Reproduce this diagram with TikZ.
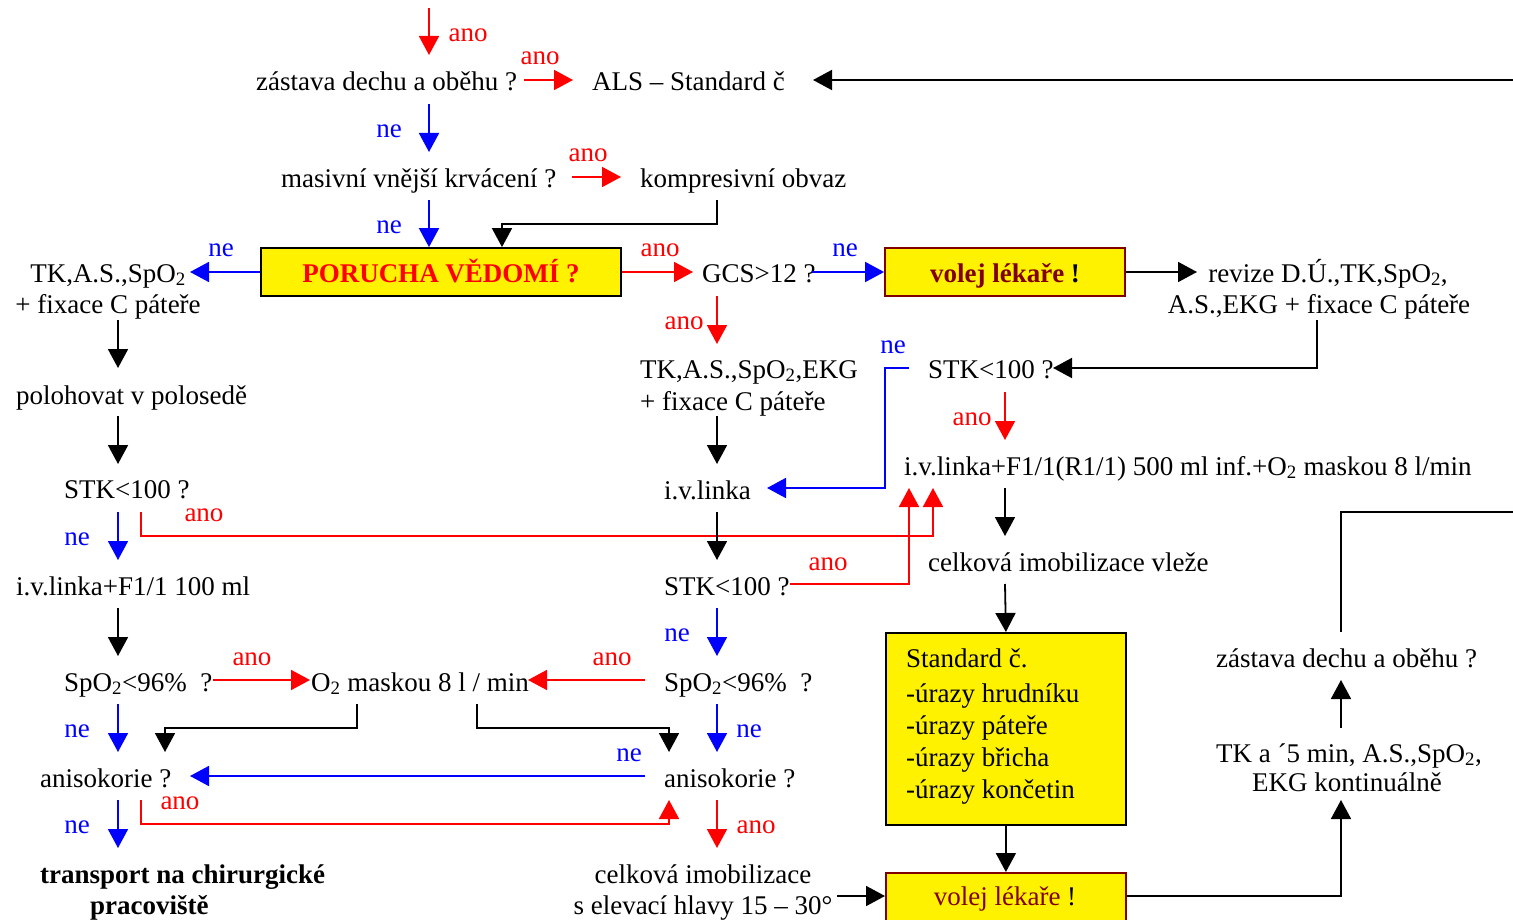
\documentclass[tikz,border=0pt]{standalone}
\usepackage{fontspec}
\setmainfont{Liberation Serif}
\usetikzlibrary{arrows.meta}
\definecolor{maroon}{RGB}{128,0,0}
\newcommand\subtwo{\textsubscript{2}}
\begin{document}
\begin{tikzpicture}[x=1pt,y=-1pt,
  every node/.style={font=\fontsize{27}{31}\selectfont},
  txt/.style={inner sep=0pt, anchor=base west},
  lab/.style={inner sep=0pt, anchor=base},
  conn/.style={line width=1.8pt, -{Triangle[length=19pt,width=20pt]}},
  bare/.style={line width=1.8pt},
  ybox/.style={draw, line width=1.8pt, fill=yellow, inner sep=0pt},
  redl/.style={lab, text=red},
  bluel/.style={lab, text=blue},
]
\useasboundingbox (0,0) rectangle (1513,920);
\clip (0,0) rectangle (1513,920);

% ---------- boxes ----------
\node[ybox, minimum width=360pt, minimum height=48pt] (por) at (441,272) {};
\node[lab, text=red, font=\fontsize{27}{31}\selectfont\bfseries] (porT) at (441,283) {PORUCHA VĚDOMÍ ?};
\node[ybox, draw=maroon, minimum width=240pt, minimum height=48pt] (vol1) at (1005,272) {};
\node[lab, text=maroon, font=\fontsize{27}{31}\selectfont\bfseries] (vol1T) at (1005,283) {volej lékaře \textcolor{black}{!}};
\node[ybox, minimum width=240pt, minimum height=192pt, anchor=north west] (std) at (885,632) {};
\node[ybox, draw=maroon, minimum width=240pt, minimum height=72pt, anchor=north west] (vol2) at (885,872) {};
\node[lab, text=maroon] (vol2T) at (1005,905) {volej lékaře \textcolor{black}{!}};

% ---------- texts ----------
\node[txt] (zast) at (256,91) {zástava dechu a oběhu ?};
\node[txt] (als) at (592,91) {ALS – Standard č};
\node[txt] (masiv) at (281,188) {masivní vnější krvácení ?};
\node[txt] (kompr) at (640,188) {kompresivní obvaz};
\node[lab] (tkL1) at (108,282) {TK,A.S.,SpO\subtwo};
\node[lab] (tkL2) at (108,313) {+ fixace C páteře};
\node[txt] (polo) at (16,404) {polohovat v polosedě};
\node[txt] (stkL) at (64,498) {STK<100 ?};
\node[txt] (ivL) at (16,595) {i.v.linka+F1/1 100 ml};
\node[txt] (spoL) at (64,691) {SpO\subtwo<96\%\ \ ?};
\node[txt] (o2) at (311,691) {O\subtwo\ maskou 8 l / min};
\node[txt] (spoR) at (664,691) {SpO\subtwo<96\%\ \ ?};
\node[txt] (anisoL) at (40,787) {anisokorie ?};
\node[txt] (anisoR) at (664,787) {anisokorie ?};
\node[txt, font=\fontsize{27}{31}\selectfont\bfseries] (trans1) at (40,883) {transport na chirurgické};
\node[txt, font=\fontsize{27}{31}\selectfont\bfseries] (trans2) at (90,914) {pracoviště};
\node[lab] (celk1) at (703,883) {celková imobilizace};
\node[lab] (celk2) at (703,914) {s elevací hlavy 15 – 30°};
\node[txt] (gcs) at (702,282) {GCS>12 ?};
\node[lab] (rev1) at (1328,282) {revize D.Ú.,TK,SpO\subtwo,};
\node[lab] (rev2) at (1319,313) {A.S.,EKG + fixace C páteře};
\node[txt] (tkM1) at (640,378) {TK,A.S.,SpO\subtwo,EKG};
\node[txt] (tkM2) at (640,410) {+ fixace C páteře};
\node[txt] (ivM) at (664,499) {i.v.linka};
\node[txt] (stkR) at (928,378) {STK<100 ?};
\node[txt] (ivR) at (904,475) {i.v.linka+F1/1(R1/1) 500 ml inf.+O\subtwo\ maskou 8 l/min};
\node[txt] (stkM) at (664,595) {STK<100 ?};
\node[txt] (celkR) at (928,571) {celková imobilizace vleže};
\node[txt] (std1) at (906,667) {Standard č.};
\node[txt] (std2) at (906,702) {-úrazy hrudníku};
\node[txt] (std3) at (906,734) {-úrazy páteře};
\node[txt] (std4) at (906,766) {-úrazy břicha};
\node[txt] (std5) at (906,798) {-úrazy končetin};
\node[txt] (zastR) at (1216,667) {zástava dechu a oběhu ?};
\node[txt] (tk5a) at (1216,762) {TK a ´5 min, A.S.,SpO\subtwo,};
\node[txt] (tk5b) at (1252,791) {EKG kontinuálně};

% ---------- labels ----------
\node[redl] (l1) at (468,42) {ano};
\node[redl] (l2) at (540,65) {ano};
\node[bluel] (l3) at (389,138) {ne};
\node[redl] (l4) at (588,162) {ano};
\node[bluel] (l5) at (389,234) {ne};
\node[bluel] (l6) at (221,257) {ne};
\node[redl] (l7) at (660,257) {ano};
\node[bluel] (l8) at (845,257) {ne};
\node[redl] (l9) at (684,329) {ano};
\node[bluel] (l10) at (893,353) {ne};
\node[redl] (l11) at (972,425) {ano};
\node[bluel] (l12) at (77,545) {ne};
\node[redl] (l13) at (204,521) {ano};
\node[redl] (l14) at (828,570) {ano};
\node[bluel] (l15) at (677,641) {ne};
\node[redl] (l16) at (252,665) {ano};
\node[redl] (l17) at (612,665) {ano};
\node[bluel] (l18) at (77,737) {ne};
\node[bluel] (l19) at (749,737) {ne};
\node[bluel] (l20) at (629,761) {ne};
\node[bluel] (l21) at (77,833) {ne};
\node[redl] (l22) at (180,809) {ano};
\node[redl] (l23) at (756,833) {ano};

% ---------- coordinates ----------
\coordinate (in0) at (429,8);
\coordinate (z1) at (429,55);
\coordinate (z2) at (524,80);
\coordinate (z3) at (573,80);
\coordinate (edgeA) at (1513,80);
\coordinate (alsR) at (813,80);
\coordinate (z4) at (429,104);
\coordinate (m1) at (429,152);
\coordinate (m2) at (572,177);
\coordinate (m3) at (621,177);
\coordinate (m4) at (429,200);
\coordinate (k1) at (717,200);
\coordinate (k2) at (717,224);
\coordinate (k3) at (502,224);
\coordinate (tkLa) at (190,272);
\coordinate (gcsL) at (693,272);
\coordinate (gcsR) at (812,272);
\coordinate (revL) at (1197,272);
\coordinate (gcsB) at (717,296);
\coordinate (tkMt) at (717,344);
\coordinate (revB) at (1317,320);
\coordinate (revC) at (1317,368);
\coordinate (stkRr) at (1053,368);
\coordinate (stkRl) at (909,368);
\coordinate (bcor1) at (885,368);
\coordinate (bcor2) at (885,488);
\coordinate (ivMr) at (767,488);
\coordinate (stkRb) at (1005,392);
\coordinate (ivRt) at (1005,440);
\coordinate (tkLb) at (118,320);
\coordinate (polT) at (118,368);
\coordinate (polB) at (118,416);
\coordinate (stkLt) at (118,464);
\coordinate (stkLb) at (118,512);
\coordinate (ivLt) at (118,560);
\coordinate (rA1) at (141,512);
\coordinate (rA2) at (141,536);
\coordinate (rA3) at (933,536);
\coordinate (rA4) at (933,488);
\coordinate (tkMb) at (717,416);
\coordinate (ivMt) at (717,464);
\coordinate (ivMb) at (717,512);
\coordinate (stkMt) at (717,560);
\coordinate (rB1) at (790,584);
\coordinate (rB2) at (909,584);
\coordinate (rB3) at (909,488);
\coordinate (ivRb) at (1005,488);
\coordinate (celkRt) at (1005,536);
\coordinate (celkRb) at (1005,584);
\coordinate (ivLb) at (118,608);
\coordinate (spoLt) at (118,656);
\coordinate (stkMb) at (717,608);
\coordinate (spoRt) at (717,656);
\coordinate (spoLr) at (213,680);
\coordinate (o2l) at (310,680);
\coordinate (spoRl) at (645,680);
\coordinate (o2r) at (528,680);
\coordinate (o2a) at (357,704);
\coordinate (o2b) at (357,728);
\coordinate (o2c) at (165,728);
\coordinate (o2d) at (165,752);
\coordinate (o2e) at (477,704);
\coordinate (o2f) at (477,728);
\coordinate (o2g) at (669,728);
\coordinate (o2h) at (669,752);
\coordinate (spoLb) at (118,704);
\coordinate (aniLt) at (118,752);
\coordinate (spoRb) at (717,704);
\coordinate (aniRt) at (717,752);
\coordinate (aniRl) at (645,776);
\coordinate (aniLr) at (190,776);
\coordinate (aniLb) at (118,800);
\coordinate (transT) at (118,848);
\coordinate (rC1) at (141,800);
\coordinate (rC2) at (141,824);
\coordinate (rC3) at (669,824);
\coordinate (rC4) at (669,800);
\coordinate (aniRb) at (717,800);
\coordinate (celkT) at (717,848);
\coordinate (celkR2) at (837,896);
\coordinate (vb1) at (1341,896);
\coordinate (tk5B) at (1341,800);
\coordinate (tk5T) at (1341,728);
\coordinate (zRb) at (1341,680);
\coordinate (zRt) at (1341,632);
\coordinate (zRc) at (1341,512);
\coordinate (edgeB) at (1513,512);

% ---------- red connectors ----------
\begin{scope}[red]
\draw[conn] (in0) -- (z1);
\draw[conn] (z2) -- (z3);
\draw[conn] (m2) -- (m3);
\draw[conn] (por.east) -- (gcsL);
\draw[conn] (gcsB) -- (tkMt);
\draw[conn] (stkRb) -- (ivRt);
\draw[conn] (rA1) -- (rA2) -- (rA3) -- (rA4);
\draw[conn] (rB1) -- (rB2) -- (rB3);
\draw[conn] (spoLr) -- (o2l);
\draw[conn] (spoRl) -- (o2r);
\draw[conn] (rC1) -- (rC2) -- (rC3) -- (rC4);
\draw[conn] (aniRb) -- (celkT);
\end{scope}

% ---------- blue connectors ----------
\begin{scope}[blue]
\draw[conn] (z4) -- (m1);
\draw[conn] (m4) -- (por.north -| m4);
\draw[conn] (por.west) -- (tkLa);
\draw[conn] (gcsR) -- (vol1.west);
\draw[conn] (stkRl) -- (bcor1) -- (bcor2) -- (ivMr);
\draw[conn] (stkLb) -- (ivLt);
\draw[conn] (stkMb) -- (spoRt);
\draw[conn] (spoLb) -- (aniLt);
\draw[conn] (spoRb) -- (aniRt);
\draw[conn] (aniRl) -- (aniLr);
\draw[conn] (aniLb) -- (transT);
\end{scope}

% ---------- black connectors ----------
\draw[conn] (edgeA) -- (alsR);
\draw[conn] (k1) -- (k2) -- (k3) -- (por.north -| k3);
\draw[conn] (vol1.east) -- (revL);
\draw[conn] (revB) -- (revC) -- (stkRr);
\draw[conn] (tkLb) -- (polT);
\draw[conn] (polB) -- (stkLt);
\draw[conn] (tkMb) -- (ivMt);
\draw[conn] (ivMb) -- (stkMt);
\draw[conn] (ivRb) -- (celkRt);
\draw[conn] (celkRb) -- (std.north);
\draw[conn] (ivLb) -- (spoLt);
\draw[conn] (o2a) -- (o2b) -- (o2c) -- (o2d);
\draw[conn] (o2e) -- (o2f) -- (o2g) -- (o2h);
\draw[conn] (std.south) -- (vol2.north);
\draw[conn] (celkR2) -- (vol2.west |- celkR2);
\draw[conn] (vol2.east |- vb1) -- (vb1) -- (tk5B);
\draw[conn] (tk5T) -- (zRb);
\draw[bare] (zRt) -- (zRc) -- (edgeB);
\end{tikzpicture}
\end{document}
